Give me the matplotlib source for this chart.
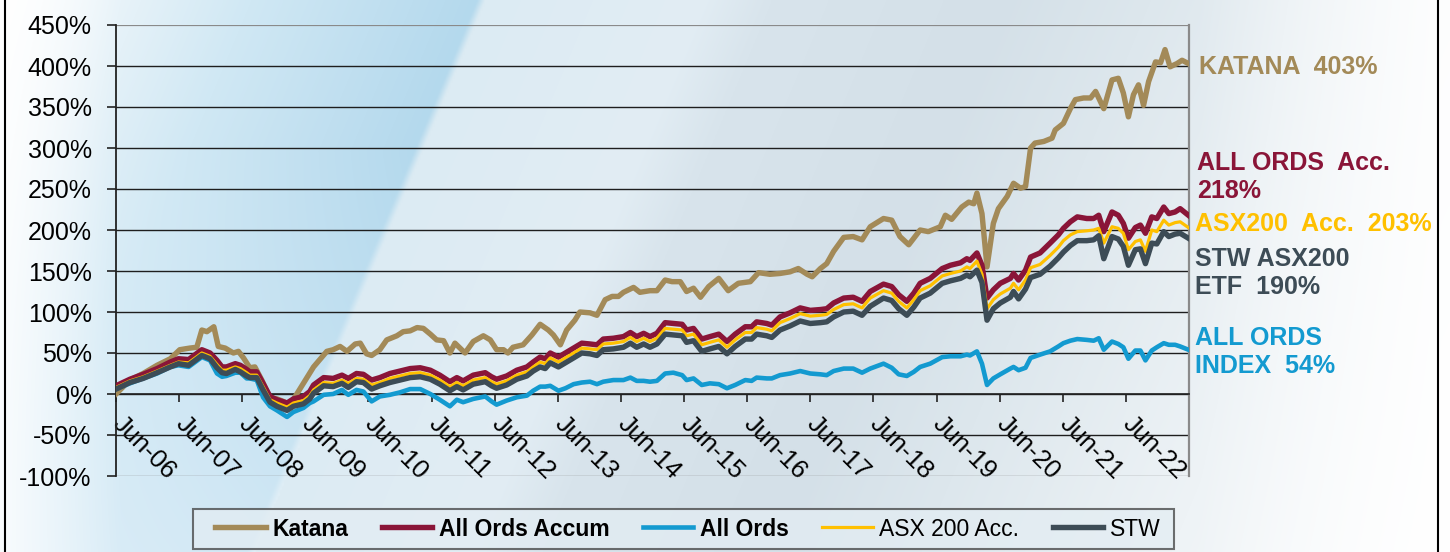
"""
Katana vs benchmarks - cumulative return since Jun-06
"""

import numpy as np
import matplotlib
matplotlib.use("Agg")
import matplotlib.pyplot as plt
from matplotlib.lines import Line2D
from matplotlib.patches import Rectangle
from matplotlib.transforms import ScaledTranslation

plt.rcParams['font.family'] = ['Liberation Sans', 'DejaVu Sans']

# ---------------------------------------------------------------- data (% cumulative)
GRID_X = [2006.50, 2006.72, 2006.93, 2007.15, 2007.36, 2007.49, 2007.65, 2007.86, 2007.99, 2008.10,
          2008.18, 2008.25, 2008.39, 2008.47, 2008.57, 2008.62, 2008.73, 2008.83, 2008.94, 2009.05,
          2009.21, 2009.31, 2009.47, 2009.57, 2009.63, 2009.79, 2009.94, 2010.08, 2010.18, 2010.31,
          2010.42, 2010.55, 2010.68, 2010.84, 2011.00, 2011.16, 2011.32, 2011.48, 2011.63, 2011.79,
          2011.90, 2012.00, 2012.16, 2012.35, 2012.45, 2012.53, 2012.69, 2012.85, 2013.01, 2013.11,
          2013.22, 2013.30, 2013.38, 2013.51, 2013.62, 2013.75, 2013.88, 2014.01, 2014.12, 2014.22,
          2014.38, 2014.54, 2014.65, 2014.75, 2014.86, 2014.96, 2015.07, 2015.20, 2015.33, 2015.47,
          2015.54, 2015.65, 2015.78, 2015.91, 2016.05, 2016.18, 2016.31, 2016.47, 2016.57, 2016.65,
          2016.81, 2016.89, 2017.02, 2017.18, 2017.34, 2017.50, 2017.66, 2017.76, 2017.87, 2018.03,
          2018.18, 2018.32, 2018.45, 2018.66, 2018.79, 2018.90, 2019.03, 2019.14, 2019.24, 2019.40,
          2019.59, 2019.72, 2019.88, 2019.98, 2020.03, 2020.14, 2020.22, 2020.30, 2020.40, 2020.51,
          2020.67, 2020.72, 2020.80, 2020.91, 2020.99, 2021.14, 2021.30, 2021.43, 2021.51, 2021.62,
          2021.73, 2021.88, 2021.99, 2022.07, 2022.15, 2022.28, 2022.38, 2022.46, 2022.54, 2022.65,
          2022.73, 2022.81, 2022.91, 2022.99, 2023.10, 2023.18, 2023.28, 2023.36, 2023.49]

all_ords_accum = [10, 18, 24, 31, 39, 43, 42, 54, 50, 41,
                  33, 33, 37, 35, 30, 27, 27, 13, -3, -7,
                  -11, -6, -3, 3, 11, 20, 19, 23, 19, 25,
                  24, 17, 20, 25, 28, 31, 32, 29, 23, 15,
                  20, 16, 23, 26, 21, 18, 22, 29, 33, 39,
                  45, 43, 50, 45, 50, 56, 62, 61, 60, 67,
                  68, 70, 75, 70, 74, 70, 74, 87, 86, 85,
                  78, 80, 67, 70, 73, 64, 73, 82, 82, 88,
                  86, 84, 94, 99, 105, 102, 103, 104, 111, 117,
                  118, 113, 125, 134, 131, 121, 113, 123, 135, 141,
                  153, 157, 160, 165, 163, 172, 157, 117, 127, 135,
                  141, 147, 139, 151, 167, 172, 184, 194, 202, 210,
                  216, 214, 214, 218, 198, 222, 218, 208, 190, 203,
                  206, 196, 216, 214, 228, 220, 222, 226, 218]

asx200_acc = [8, 16, 21, 28, 35, 39, 38, 50, 46, 36,
              29, 29, 33, 31, 26, 23, 23, 9, -7, -11,
              -16, -11, -8, -2, 5, 14, 13, 17, 13, 19,
              18, 11, 14, 19, 22, 25, 26, 23, 17, 9,
              14, 10, 17, 20, 15, 12, 16, 23, 27, 33,
              39, 37, 44, 39, 44, 50, 56, 55, 54, 61,
              62, 64, 69, 64, 68, 64, 68, 80, 79, 78,
              71, 73, 60, 63, 66, 57, 66, 75, 75, 81,
              79, 77, 87, 92, 98, 95, 96, 97, 103, 109,
              110, 105, 117, 126, 123, 113, 105, 115, 126, 132,
              144, 147, 150, 155, 153, 162, 146, 104, 115, 122,
              129, 135, 127, 139, 154, 158, 169, 179, 187, 194,
              198, 199, 200, 202, 184, 204, 202, 196, 176, 186,
              188, 174, 200, 198, 212, 206, 209, 210, 203]

stw = [6, 14, 19, 26, 33, 37, 35, 47, 43, 32,
       26, 25, 30, 27, 22, 20, 20, 5, -10, -15,
       -20, -15, -12, -6, 1, 10, 9, 13, 8, 15,
       14, 6, 10, 14, 17, 20, 21, 18, 12, 4,
       9, 5, 12, 15, 10, 7, 11, 18, 22, 28,
       33, 31, 38, 33, 38, 44, 50, 49, 47, 54,
       55, 57, 62, 57, 61, 57, 61, 73, 72, 71,
       63, 65, 52, 55, 58, 49, 58, 67, 67, 73,
       71, 69, 78, 83, 89, 86, 87, 88, 94, 100,
       101, 96, 107, 117, 114, 104, 96, 106, 117, 123,
       135, 138, 141, 145, 143, 151, 136, 90, 104, 111,
       118, 125, 116, 128, 142, 146, 156, 166, 173, 181,
       187, 187, 188, 193, 165, 192, 189, 180, 157, 176,
       177, 159, 184, 183, 198, 192, 195, 196, 190]

all_ords = [6, 13, 19, 25, 33, 35, 33, 45, 41, 25,
            21, 22, 26, 26, 19, 19, 17, -4, -15, -20,
            -28, -22, -17, -11, -9, -1, 0, 5, -1, 5,
            3, -9, -3, -1, 2, 6, 6, 0, -7, -15,
            -7, -10, -6, -3, -9, -13, -8, -4, -2, 4,
            9, 9, 10, 4, 7, 12, 14, 15, 12, 15,
            17, 17, 20, 16, 16, 15, 16, 25, 26, 23,
            17, 19, 11, 13, 12, 7, 11, 17, 16, 20,
            19, 19, 23, 25, 28, 25, 24, 23, 28, 31,
            31, 26, 31, 37, 32, 24, 22, 27, 33, 37,
            45, 46, 46, 48, 47, 52, 37, 11, 19, 24,
            31, 33, 29, 32, 44, 48, 52, 58, 62, 65,
            67, 66, 65, 68, 54, 64, 61, 57, 43, 53,
            53, 41, 53, 57, 62, 60, 60, 58, 54]

KATANA_X = [2006.50, 2006.72, 2006.93, 2007.15, 2007.36, 2007.51, 2007.67, 2007.78, 2007.86, 2007.94,
            2008.05, 2008.12, 2008.23, 2008.36, 2008.44, 2008.52, 2008.62, 2008.70, 2008.81, 2008.94,
            2009.05, 2009.15, 2009.26, 2009.42, 2009.63, 2009.84, 2009.94, 2010.05, 2010.16, 2010.29,
            2010.37, 2010.47, 2010.55, 2010.68, 2010.79, 2010.95, 2011.05, 2011.16, 2011.27, 2011.37,
            2011.48, 2011.58, 2011.69, 2011.79, 2011.87, 2012.03, 2012.16, 2012.32, 2012.43, 2012.53,
            2012.64, 2012.71, 2012.79, 2012.95, 2013.09, 2013.22, 2013.35, 2013.43, 2013.54, 2013.64,
            2013.77, 2013.85, 2014.01, 2014.12, 2014.25, 2014.36, 2014.46, 2014.54, 2014.62, 2014.70,
            2014.80, 2014.96, 2015.07, 2015.20, 2015.31, 2015.44, 2015.54, 2015.65, 2015.76, 2015.89,
            2016.05, 2016.20, 2016.36, 2016.55, 2016.68, 2016.86, 2017.02, 2017.18, 2017.31, 2017.45,
            2017.53, 2017.66, 2017.76, 2017.87, 2018.03, 2018.18, 2018.32, 2018.45, 2018.66, 2018.79,
            2018.92, 2019.06, 2019.24, 2019.37, 2019.56, 2019.64, 2019.74, 2019.90, 2020.01, 2020.09,
            2020.14, 2020.22, 2020.30, 2020.40, 2020.48, 2020.62, 2020.72, 2020.83, 2020.91, 2020.99,
            2021.06, 2021.20, 2021.33, 2021.38, 2021.51, 2021.62, 2021.70, 2021.83, 2021.94, 2022.02,
            2022.15, 2022.28, 2022.38, 2022.46, 2022.54, 2022.62, 2022.70, 2022.78, 2022.86, 2022.97,
            2023.05, 2023.12, 2023.20, 2023.31, 2023.39, 2023.49]

katana = [0, 17, 25, 35, 43, 54, 56, 57, 78, 76,
          82, 58, 56, 50, 52, 44, 32, 33, 17, -5,
          -6, -9, -13, 7, 33, 52, 54, 58, 52, 61,
          62, 49, 47, 54, 66, 71, 76, 77, 81, 80,
          73, 66, 65, 50, 62, 50, 64, 71, 66, 54,
          54, 50, 57, 60, 72, 85, 78, 72, 60, 78,
          90, 100, 99, 96, 115, 119, 119, 124, 127, 130,
          124, 126, 126, 139, 137, 137, 125, 129, 118, 131,
          141, 126, 135, 137, 148, 146, 147, 149, 153, 146,
          143, 153, 159, 174, 191, 192, 188, 204, 214, 212,
          192, 182, 200, 198, 204, 218, 213, 228, 234, 232,
          245, 220, 155, 208, 226, 241, 257, 251, 253, 300,
          306, 308, 312, 322, 330, 348, 359, 361, 361, 369,
          348, 383, 385, 367, 338, 365, 377, 352, 381, 405,
          404, 420, 399, 403, 407, 403]

TICK_YEARS = list(range(6, 23))          # Jun-06 ... Jun-22
Y_TICKS = [-100, -50, 0, 50, 100, 150, 200, 250, 300, 350, 400, 450]

END_LABELS = ["KATANA  403%", "ALL ORDS  Acc.\n218%", "ASX200  Acc.  203%",
              "STW ASX200\nETF  190%", "ALL ORDS\nINDEX  54%"]

C_KATANA = '#A38A58'
C_ACCUM = '#8A1538'
C_ORDS = '#139AD0'
C_ASX = '#FFC000'
C_STW = '#3D4C56'


def background(fig):
    """slide style background: blue gradient with diagonal bands"""
    W, H = 725, 276
    X, Y = np.meshgrid(np.arange(W) * 2.0, np.arange(H) * 2.0)
    u = X + 0.417 * Y
    stops = [0, 140, 250, 380, 476, 484, 700, 770, 1000, 1150, 1400, 1700]
    cols = ['#ffffff', '#e4f1f8', '#d0e8f4', '#c0dff0', '#b4d9ed', '#dcebf3', '#e2edf4',
            '#d8e4ec', '#d4e0e8', '#dde7ed', '#eef3f6', '#ffffff']
    rgb = np.array([matplotlib.colors.to_rgb(c) for c in cols])
    img = np.stack([np.interp(u, stops, rgb[:, k]) for k in range(3)], axis=-1)
    # blue zone washes out towards the bottom
    wash = ((u < 484) * np.clip((Y - 150) / 400.0, 0, 1) * 0.6)[..., None]
    img = img * (1 - wash) + wash * np.array([0.90, 0.95, 0.98])
    fade = np.clip((X - 1200) / 240.0, 0, 1)[..., None] * 0.85
    img = img * (1 - fade) + fade
    fade_l = np.clip((120 - X) / 120.0, 0, 1)[..., None] * 0.8
    img = img * (1 - fade_l) + fade_l
    bg = fig.add_axes([0, 0, 1, 1], zorder=0)
    bg.imshow(img, aspect='auto', extent=[0, 1450, 552, 0], interpolation='bilinear')
    bg.axis('off')


def main():
    fig = plt.figure(figsize=(14.5, 5.52), dpi=100)
    background(fig)

    ax = fig.add_axes([116 / 1450, 1 - 476 / 552, (1189 - 116) / 1450, (476 - 25) / 552], zorder=1)
    ax.set_facecolor('none')

    ax.plot(KATANA_X, katana, color=C_KATANA, lw=3.9, label='Katana', zorder=3, solid_joinstyle='round')
    ax.plot(GRID_X, all_ords_accum, color=C_ACCUM, lw=3.9, label='All Ords Accum', zorder=4,
            solid_joinstyle='round')
    ax.plot(GRID_X, all_ords, color=C_ORDS, lw=3.3, label='All Ords', zorder=5, solid_joinstyle='round')
    ax.plot(GRID_X, asx200_acc, color=C_ASX, lw=2.3, label='ASX 200 Acc.', zorder=6, solid_joinstyle='round')
    ax.plot(GRID_X, stw, color=C_STW, lw=3.9, label='STW', zorder=7, solid_joinstyle='round')

    ax.set_xlim(2006.5, 2023.5)
    ax.set_ylim(-100, 450)

    # y axis
    ax.set_yticks(Y_TICKS)
    ax.set_yticklabels([f"{v}%" for v in Y_TICKS], fontsize=18)
    ax.tick_params(axis='y', length=6.5, width=1.2, pad=11, color='#222222')
    ax.yaxis.grid(True, color='#1e1e1e', lw=1.0)
    ax.set_axisbelow(True)
    glines = ax.get_ygridlines()
    glines[0].set_color('#8a8a8a')
    glines[-1].set_color('#8a8a8a')
    glines[-1].set_linewidth(1.6)

    # x axis crosses at 0%
    ax.spines['bottom'].set_position(('data', 0))
    ax.spines['bottom'].set_color('#222222')
    ax.spines['bottom'].set_linewidth(1.2)
    ax.spines['left'].set_color('#222222')
    ax.spines['left'].set_linewidth(1.3)
    ax.spines['right'].set_color('#8a8a8a')
    ax.spines['right'].set_linewidth(1.6)
    ax.spines['top'].set_visible(False)

    xt = [2000.5 + y for y in TICK_YEARS] + [2023.5]
    xl = [f"Jun-{y:02d}" for y in TICK_YEARS] + ['']
    ax.set_xticks(xt)
    ax.set_xticklabels(xl, rotation=-45, ha='left', va='top', rotation_mode='anchor', fontsize=18.5)
    ax.tick_params(axis='x', length=5.5, width=1.2, pad=7, color='#222222', direction='out')
    shift = ScaledTranslation(0.09, 0, fig.dpi_scale_trans)
    for lbl in ax.get_xticklabels():
        lbl.set_transform(lbl.get_transform() + shift)

    # end-of-line labels
    lab_kw = dict(fontsize=18, fontweight='bold', ha='left', va='center', linespacing=1.25)
    fig.text(1199 / 1450, 1 - 67 / 552, END_LABELS[0], color=C_KATANA, **lab_kw)
    fig.text(1197 / 1450, 1 - 177 / 552, END_LABELS[1], color=C_ACCUM, **lab_kw)
    fig.text(1195 / 1450, 1 - 224 / 552, END_LABELS[2], color=C_ASX, **lab_kw)
    fig.text(1195 / 1450, 1 - 273 / 552, END_LABELS[3], color=C_STW, **lab_kw)
    fig.text(1195 / 1450, 1 - 352 / 552, END_LABELS[4], color=C_ORDS, **lab_kw)

    # legend box drawn separately (wide side padding)
    fig.add_artist(Rectangle((193 / 1450, 1 - 549 / 552), (1174 - 193) / 1450, 40 / 552,
                             transform=fig.transFigure, facecolor='#e3edf3', alpha=0.75,
                             edgecolor='#404040', lw=1.5, zorder=2))
    leg = fig.legend(loc='center', bbox_to_anchor=(688 / 1450, 1 - 529 / 552), ncol=5,
                     fontsize=16.5, frameon=False, handlelength=2.2,
                     handletextpad=0.3, columnspacing=1.45, borderpad=0.3)
    leg.set_zorder(3)
    for i, t in enumerate(leg.get_texts()):
        if i < 3:
            t.set_fontweight('bold')

    # slide frame edges
    fig.add_artist(Line2D([4.5 / 1450] * 2, [0, 1], color='black', lw=1.5))
    fig.add_artist(Line2D([1438 / 1450] * 2, [0, 1], color='black', lw=1.5))

    fig.savefig('out.png', dpi=100)
    plt.close(fig)


if __name__ == "__main__":
    main()
